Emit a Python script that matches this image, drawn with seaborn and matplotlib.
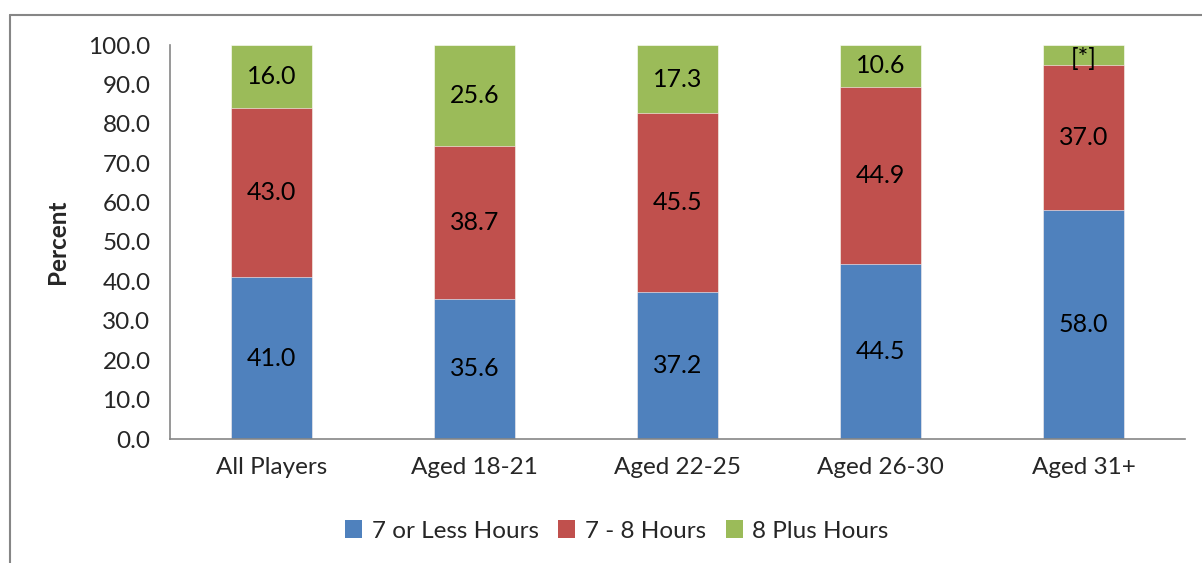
import numpy as np
import matplotlib
matplotlib.use("Agg")
import matplotlib.pyplot as plt
import seaborn as sns
from matplotlib.lines import Line2D
from matplotlib.patches import Patch

categories = ["All Players", "Aged 18-21", "Aged 22-25", "Aged 26-30", "Aged 31+"]
less7 = [41.0, 35.6, 37.2, 44.5, 58.0]
h7_8 = [43.0, 38.7, 45.5, 44.9, 37.0]
plus8 = [16.0, 25.6, 17.3, 10.6, 5.0]
plus8_labels = ["16.0", "25.6", "17.3", "10.6", "[*]"]
series_names = ["7 or Less Hours", "7 - 8 Hours", "8 Plus Hours"]
yticks = np.arange(0, 101, 10)

sns.set_style("white")
plt.rcParams["font.family"] = ["Lato", "DejaVu Sans"]

colors = ["#4F81BD", "#C0504D", "#9BBB59"]
axis_gray = "#868686"
fs = 17.5

fig = plt.figure(figsize=(12.02, 5.63), dpi=100)
ax = fig.add_axes([170 / 1202, 1 - 439 / 563, (1185 - 170) / 1202, (439 - 45) / 563])

blue = np.array(less7)
red = blue + np.array(h7_8)
green = np.minimum(red + np.array(plus8), 100)

# stacked by overdrawing cumulative totals
for tops, c in [(green, colors[2]), (red, colors[1]), (blue, colors[0])]:
    sns.barplot(x=categories, y=tops, color=c, width=0.395, saturation=1,
                edgecolor="#ffffff", linewidth=0.4, ax=ax)

bottoms = [np.zeros(5), blue, red]
vals = [less7, h7_8, plus8]
for k in range(3):
    for i in range(5):
        lab = f"{vals[k][i]:.1f}"
        if k == 2:
            lab = plus8_labels[i]
        ypos = bottoms[k][i] + vals[k][i] / 2
        if k == 2 and i == 4:
            ypos = 96.7
        ax.text(i, ypos, lab, ha="center", va="center", fontsize=18, color="black")

ax.set_xlim(-0.5, 4.5)
ax.set_ylim(0, 100)
ax.set_yticks(yticks)
ax.set_yticklabels([f"{t:.1f}" for t in yticks], fontsize=fs)
ax.set_xticks(np.arange(-0.5, 5, 1))
ax.set_xticklabels([""] * 6)
ax.set_xticks(range(5), minor=True)
ax.set_xticklabels(categories, minor=True, fontsize=fs)
ax.tick_params(axis="x", which="major", direction="out", length=8, color=axis_gray, width=1.2)
ax.tick_params(axis="x", which="minor", length=0, pad=13)
ax.tick_params(axis="y", direction="out", length=7, color=axis_gray, width=1.2, pad=7)
for s in ["top", "right"]:
    ax.spines[s].set_visible(False)
for s in ["left", "bottom"]:
    ax.spines[s].set_color(axis_gray)
    ax.spines[s].set_linewidth(1.2)
ax.set_xlabel("")
ax.set_ylabel("Percent", fontsize=fs, fontweight="bold", labelpad=14)

handles = [Patch(facecolor=c, edgecolor="none") for c in colors]
fig.legend(handles, series_names, loc="center", bbox_to_anchor=(617 / 1202, 1 - 531 / 563),
           ncol=3, frameon=False, fontsize=fs, handlelength=0.7, handleheight=0.7,
           handletextpad=0.4, columnspacing=0.8)

# outer chart frame
fig.add_artist(Line2D([10 / 1202, 1.0], [1 - 15 / 563, 1 - 15 / 563], color=axis_gray, lw=1.5))
fig.add_artist(Line2D([10 / 1202, 10 / 1202], [0.0, 1 - 15 / 563], color=axis_gray, lw=1.5))

fig.savefig("out.png", dpi=100, facecolor="white")
